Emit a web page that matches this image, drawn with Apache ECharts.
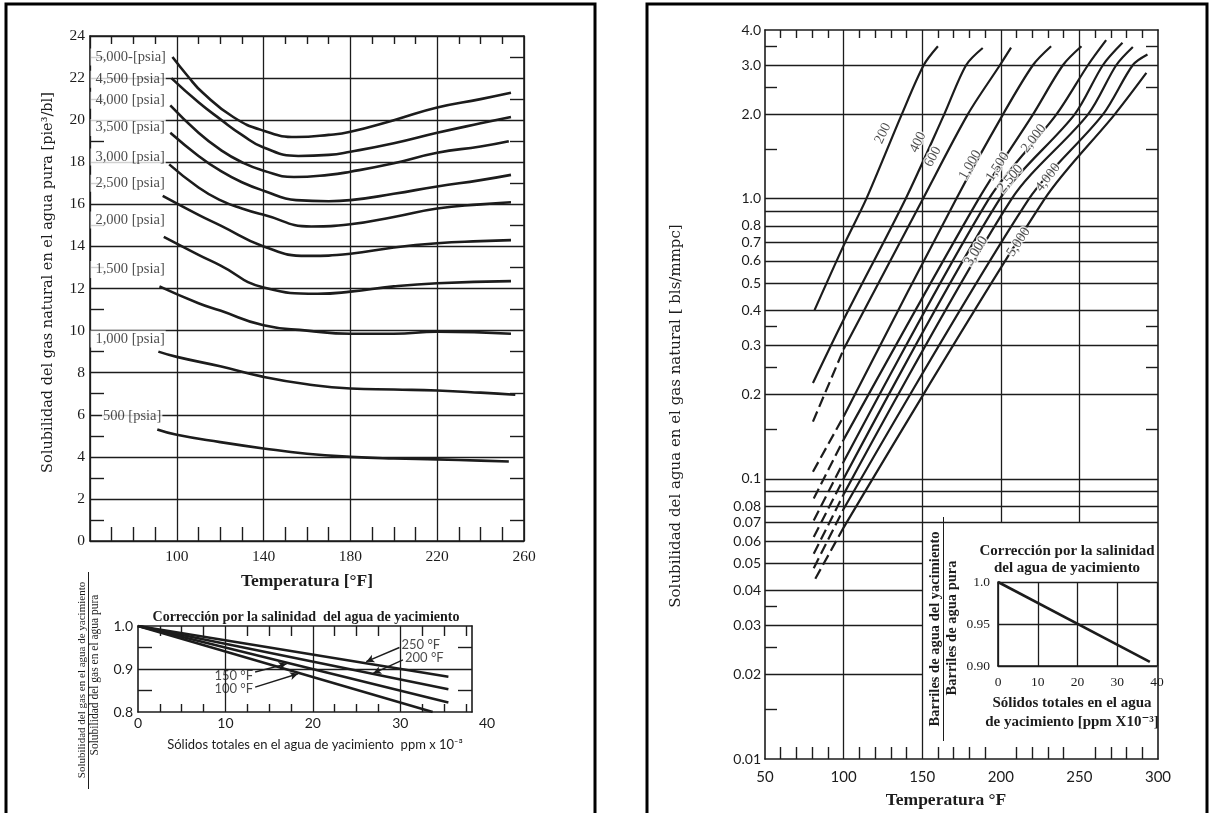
<!DOCTYPE html>
<html><head><meta charset="utf-8">
<script src="https://cdn.jsdelivr.net/npm/echarts@6/dist/echarts.min.js"></script>
<style>html,body{margin:0;padding:0;background:#fff}#c{width:1211px;height:813px}</style>
</head><body><div id="c"></div>
<script>
// ===== LEFT MAIN: gas solubility in pure water [pie³/bl] vs temperature [°F]
const psiaNames = ['5,000-[psia]','4,500 [psia]','4,000 [psia]','3,500 [psia]','3,000 [psia]','2,500 [psia]','2,000 [psia]','1,500 [psia]','1,000 [psia]','500 [psia]'];
const psiaLabelPos = [[60.2,23.0],[60.2,21.95],[60.2,20.95],[60.2,19.65],[60.2,18.25],[60.2,17.0],[60.2,15.25],[60.2,12.9],[60.2,9.6],[65.5,5.95]];
const g5000 = [[98,23.0],[105,22.1],[112,21.3],[126,20.15],[140,19.5],[155,19.2],[170,19.3],[180,19.45],[200,20.0],[220,20.6],[240,21.0],[254,21.3]];
const g4500 = [[97.5,22.0],[110,20.85],[120,20.05],[130,19.3],[140,18.7],[156,18.3],[170,18.35],[180,18.5],[200,18.9],[220,19.4],[240,19.85],[254,20.15]];
const g4000 = [[97,20.7],[110,19.4],[120,18.6],[130,18.0],[140,17.6],[154,17.3],[170,17.4],[180,17.55],[200,17.95],[220,18.45],[240,18.75],[253,19.0]];
const g3500 = [[97,19.4],[110,18.3],[120,17.6],[130,17.05],[140,16.65],[155,16.2],[170,16.15],[180,16.2],[200,16.5],[220,16.85],[240,17.15],[254,17.4]];
const g3000 = [[96.5,17.9],[110,16.8],[120,16.2],[130,15.8],[140,15.5],[162,14.95],[180,15.05],[200,15.4],[220,15.8],[240,16.0],[254,16.1]];
const g2500 = [[93.5,16.4],[110,15.5],[120,15.0],[140,14.0],[160,13.55],[180,13.65],[200,13.95],[220,14.15],[240,14.25],[254,14.3]];
const g2000 = [[94,14.45],[110,13.6],[120,13.1],[140,12.05],[165,11.75],[180,11.85],[200,12.1],[220,12.25],[254,12.35]];
const g1500 = [[92,12.1],[110,11.3],[120,10.95],[140,10.25],[160,10.0],[180,9.85],[200,9.85],[220,9.95],[254,9.85]];
const g1000 = [[91.5,9.0],[100,8.75],[120,8.3],[140,7.8],[160,7.45],[180,7.25],[200,7.2],[220,7.15],[240,7.05],[256,6.95]];
const g500  = [[91,5.3],[100,5.05],[120,4.7],[140,4.4],[160,4.15],[180,4.0],[200,3.92],[220,3.88],[240,3.82],[253,3.78]];
const gasCurves = [g5000,g4500,g4000,g3500,g3000,g2500,g2000,g1500,g1000,g500];
const tempTicks = [70,80,90,110,120,130,150,160,170,190,200,210,230,240,250];
const solOddTicks = [1,3,5,7,9,11,13,15,17,19,21,23];

// ===== LEFT INSET: salinity correction for gas solubility
const sal250 = [[0,1.0],[35.5,0.882]];
const sal200 = [[0,1.0],[35.5,0.853]];
const sal150 = [[0,1.0],[35.5,0.822]];
const sal100 = [[0,1.0],[33.7,0.80]];
const salLabels = [[29.9,0.956,'250 °F','right'],[30.3,0.926,'200 °F','right'],[13.4,0.884,'150 °F','left'],[13.4,0.855,'100 °F','left']];
const salArrows = [[[29.9,0.950],[26.1,0.917]],[[30.3,0.921],[26.9,0.890]],[[13.4,0.893],[17.0,0.912]],[[13.4,0.858],[18.3,0.889]]];
const salMinorX = [2.5,5,7.5,12.5,15,17.5,22.5,25,27.5,32.5,35,37.5];
const salMinorY = [0.85,0.95];
const salGridX = [10,20,30];
const salGridY = [0.9];
const salExtent = {xMax:38.2, yMin:0.8, yMax:1.0};

// ===== RIGHT MAIN: water content of natural gas [bls/mmpc] vs temperature (log scale)
const w200  = [[81.5,0.4],[100,0.68],[114.5,1.0],[137,2.0],[151,3.0],[160,3.5]];
const w400  = [[80.5,0.22],[100,0.37],[139.5,1.0],[164,2.0],[178,3.0],[188.5,3.45]];
const w600d = [[80.5,0.16],[100,0.29]];
const w600  = [[100,0.29],[150.5,1.0],[179,2.0],[199.5,3.0],[206.5,3.46]];
const w1000d= [[80.5,0.106],[100,0.167]];
const w1000 = [[100,0.167],[171.7,1.0],[201.4,2.0],[220.5,3.0],[232,3.5]];
const w1500d= [[81,0.085],[100,0.138]];
const w1500 = [[100,0.138],[186,1.0],[220.5,2.0],[239.6,3.0],[251.3,3.5]];
const w2000d= [[81,0.071],[100,0.115]];
const w2000 = [[100,0.115],[192.5,1.0],[235.4,2.0],[255.5,3.0],[267,3.68]];
const w2500d= [[81,0.062],[100,0.1]];
const w2500 = [[100,0.1],[199.5,1.0],[247,2.0],[265,3.0],[277.4,3.6]];
const w3000d= [[81,0.054],[100,0.088]];
const w3000 = [[100,0.088],[207,1.0],[255.5,2.0],[273.5,3.0],[284,3.48]];
const w4000d= [[81,0.048],[100,0.078]];
const w4000 = [[100,0.078],[218,1.0],[265,2.0],[284,3.0],[293.3,3.27]];
const w5000d= [[82,0.044],[100,0.067]];
const w5000 = [[100,0.067],[228,1.0],[272.5,2.0],[292.6,2.81]];
const waterSolid  = [w200,w400,w600,w1000,w1500,w2000,w2500,w3000,w4000,w5000];
const waterDashed = [w600d,w1000d,w1500d,w2000d,w2500d,w3000d,w4000d,w5000d];
const waterLabels = [[125,1.71,'200',65],[147.3,1.59,'400',64],[156.8,1.41,'600',62],[180.5,1.32,'1,000',60],[198,1.30,'1,500',57],[221,1.64,'2,000',52],[206,1.18,'2,500',50],[184.4,0.65,'3,000',58],[230,1.19,'4,000',52],[211.3,0.70,'5,000',57]];
const waterTickVals = [4,3,2,1,0.8,0.7,0.6,0.5,0.4,0.3,0.2,0.1,0.08,0.07,0.06,0.05,0.04,0.03,0.02,0.01];
const waterTickText = ['4.0','3.0','2.0','1.0','0.8','0.7','0.6','0.5','0.4','0.3','0.2','0.1','0.08','0.07','0.06','0.05','0.04','0.03','0.02','0.01'];
const waterMinorY = [3.5,2.5,1.5,0.35,0.25,0.15,0.035,0.025,0.015];
const waterMinorYRight = [3.5,2.5,1.5,0.35,0.25,0.15];
const waterTempTicks = [60,70,80,90,110,120,130,140,160,170,180,190,210,220,230,240,260,270,280,290];
const hGridFull = [3,2,1,0.9,0.8,0.7,0.6,0.5,0.4,0.3,0.2,0.1,0.09,0.08,0.07];
const hGridPartial = [0.06,0.05,0.04,0.03,0.02];
const vGridFull = [100,150];
const vGridPartial = [200,250];
const insetCorner = [150,0.07];

// ===== RIGHT INSET: salinity correction for water content
const waterSal = [[0,1.0],[38.2,0.905]];

const INK = '#1c1c1c';
const serif = "'Liberation Serif', 'DejaVu Serif', serif";
const wideSerif = "'DejaVu Serif', 'Liberation Serif', serif";
const sans = "Lato, 'Liberation Sans', sans-serif";
const line = {color: INK, width: 1.6};

function frameAxis(o) {
  return Object.assign({type:'value', axisLine:{show:true, onZero:false, lineStyle:line}, axisTick:{show:false}, axisLabel:{show:false}, splitLine:{show:false}}, o);
}
function ticks(vals, len) { return {show:true, inside:true, length:len, customValues: vals, lineStyle:{color:INK, width:1.4}}; }
function gridMark(segs) {
  return {silent:true, symbol:['none','none'], label:{show:false}, lineStyle:{color:INK, width:1.3, type:'solid'}, data: segs, animation:false};
}

const series = [];
gasCurves.forEach(d => series.push({type:'line', xAxisIndex:0, yAxisIndex:0, data:d, smooth:0.5, showSymbol:false, lineStyle:{color:INK, width:2.6}, silent:true}));
series.push({type:'scatter', xAxisIndex:0, yAxisIndex:0, z:20, symbolSize:0.1, itemStyle:{color:'transparent'}, silent:true,
  data: psiaLabelPos.map((p,i)=>({value:p, name:psiaNames[i], label:{padding: i===9 ? [1,1,1,1] : [1,1,1,5]}})),
  label:{show:true, position:'right', distance:0, formatter: p=>p.name, fontFamily:serif, fontSize:14.5, color:INK, backgroundColor:'#fff'}});

// left inset grid lines
const sg = [];
salGridX.forEach(x => sg.push([{coord:[x,salExtent.yMin]},{coord:[x,salExtent.yMax]}]));
salGridY.forEach(y => sg.push([{coord:[0,y]},{coord:[salExtent.xMax,y]}]));
series.push({type:'line', xAxisIndex:2, yAxisIndex:2, data:[], silent:true, markLine:gridMark(sg)});
[sal250,sal200,sal150,sal100].forEach(d => series.push({type:'line', xAxisIndex:2, yAxisIndex:2, data:d, showSymbol:false, lineStyle:{color:INK, width:2.4}, silent:true}));
series.push({type:'scatter', xAxisIndex:2, yAxisIndex:2, symbolSize:0.1, itemStyle:{color:'transparent'}, silent:true,
  data: salLabels.map(l=>({value:[l[0],l[1]], name:l[2], label:{position:l[3]}})),
  label:{show:true, distance:2, formatter:p=>p.name, fontFamily:sans, fontSize:13, color:INK},
  markLine:{silent:true, symbol:['none','arrow'], symbolSize:[6,8], label:{show:false}, lineStyle:{color:INK, width:1.4, type:'solid'},
    data: salArrows.map(a=>[{coord:a[0]},{coord:a[1]}])}});

// grid lines of the log chart (partial where the inset sits)
const gl = [];
hGridFull.forEach(v => gl.push([{coord:[50,v]},{coord:[300,v]}]));
hGridPartial.forEach(v => gl.push([{coord:[50,v]},{coord:[insetCorner[0],v]}]));
vGridFull.forEach(t => gl.push([{coord:[t,0.01]},{coord:[t,4]}]));
vGridPartial.forEach(t => gl.push([{coord:[t,insetCorner[1]]},{coord:[t,4]}]));
series.push({type:'line', xAxisIndex:4, yAxisIndex:4, data:[], silent:true, markLine:gridMark(gl)});
waterSolid.forEach(d => series.push({type:'line', xAxisIndex:4, yAxisIndex:4, data:d, smooth:0.3, showSymbol:false, lineStyle:{color:INK, width:2.2}, silent:true}));
waterDashed.forEach(d => series.push({type:'line', xAxisIndex:4, yAxisIndex:4, data:d, showSymbol:false, lineStyle:{color:INK, width:2.2, type:[11,5]}, silent:true}));
series.push({type:'scatter', xAxisIndex:4, yAxisIndex:4, z:20, symbolSize:0.1, itemStyle:{color:'transparent'}, silent:true,
  data: waterLabels.map(l=>({value:[l[0],l[1]], name:l[2], label:{rotate:l[3]}})),
  label:{show:true, position:'inside', formatter:p=>p.name, fontFamily:serif, fontSize:14, color:INK, textBorderColor:'#fff', textBorderWidth:3}});

series.push({type:'line', xAxisIndex:6, yAxisIndex:6, data:waterSal, showSymbol:false, lineStyle:{color:INK, width:2.6}, silent:true});

const option = {
  animation:false,
  backgroundColor:'#fff',
  textStyle:{fontFamily:serif, color:INK},
  grid:[
    {left:90, top:36, width:434, height:505},
    {left:138, top:626, width:334, height:86},
    {left:765, top:30, width:393, height:729},
    {left:998, top:582, width:159, height:84}
  ],
  xAxis:[
    frameAxis({gridIndex:0, min:60, max:260, interval:40, position:'bottom',
      axisTick:{show:false, inside:true},
      minorTick:{show:true, splitNumber:4, length:14, lineStyle:{color:INK, width:1.4}},
      axisLabel:{show:true, formatter:v=>v===60?'':String(v), fontFamily:serif, fontSize:15.5, color:INK, margin:8},
      splitLine:{show:true, lineStyle:{color:INK, width:1.3}},
      name:'Temperatura [°F]', nameLocation:'middle', nameGap:31, nameTextStyle:{fontFamily:serif, fontSize:17.5, fontWeight:'bold', color:INK}}),
    frameAxis({gridIndex:0, min:60, max:260, interval:40, position:'top', axisTick:ticks(tempTicks,8)}),
    frameAxis({gridIndex:1, min:0, max:salExtent.xMax, interval:10, position:'bottom',
      axisTick:ticks(salMinorX,8),
      axisLabel:{show:true, formatter:v=>v%10===0?String(v):'', fontFamily:sans, fontSize:14, color:INK, margin:4}}),
    frameAxis({gridIndex:1, min:0, max:salExtent.xMax, interval:10, position:'top', axisTick:ticks(salMinorX,10)}),
    frameAxis({gridIndex:2, min:50, max:300, interval:50, position:'bottom',
      axisTick:ticks(waterTempTicks,12),
      axisLabel:{show:true, fontFamily:sans, fontSize:15, color:INK, margin:11}}),
    frameAxis({gridIndex:2, min:50, max:300, interval:50, position:'top', axisTick:ticks(waterTempTicks,8)}),
    frameAxis({gridIndex:3, min:0, max:40, interval:10, position:'bottom',
      axisLabel:{show:true, fontFamily:serif, fontSize:13.5, color:INK, margin:9},
      splitLine:{show:true, lineStyle:{color:INK, width:1.3}}})
  ],
  yAxis:[
    frameAxis({gridIndex:0, min:0, max:24, interval:2, position:'left',
      axisTick:{show:false, inside:true},
      minorTick:{show:true, splitNumber:2, length:14, lineStyle:{color:INK, width:1.4}},
      axisLabel:{show:true, fontFamily:serif, fontSize:15.5, color:INK, margin:5},
      splitLine:{show:true, lineStyle:{color:INK, width:1.3}},
      name:'Solubilidad del gas natural en el agua pura [pie³/bl]', nameLocation:'middle', nameGap:34,
      nameTextStyle:{fontFamily:wideSerif, fontSize:14.5, color:INK, padding:[0,0,0,12]}}),
    frameAxis({gridIndex:0, min:0, max:24, interval:2, position:'right', axisTick:ticks(solOddTicks,14)}),
    frameAxis({gridIndex:1, min:salExtent.yMin, max:salExtent.yMax, interval:0.1, position:'left',
      axisTick:ticks(salMinorY,14),
      axisLabel:{show:true, customValues:[0.8,0.9,1.0], formatter:v=>v.toFixed(1), fontFamily:sans, fontSize:14, color:INK, margin:5}}),
    frameAxis({gridIndex:1, min:salExtent.yMin, max:salExtent.yMax, interval:0.1, position:'right', axisTick:ticks(salMinorY,14)}),
    frameAxis({gridIndex:2, type:'log', logBase:10, min:0.01, max:4, position:'left',
      axisTick:ticks(waterMinorY,12),
      axisLabel:{show:true, customValues:waterTickVals, fontFamily:sans, fontSize:14, color:INK, margin:4,
        formatter:v=>{const i=waterTickVals.findIndex(t=>Math.abs(Math.log10(t)-Math.log10(v))<1e-6); return i>=0?waterTickText[i]:'';}}}),
    frameAxis({gridIndex:2, type:'log', logBase:10, min:0.01, max:4, position:'right', axisTick:ticks(waterMinorYRight,12)}),
    frameAxis({gridIndex:3, min:0.9, max:1.0, interval:0.05, position:'left',
      axisLabel:{show:true, formatter:v=>Math.abs(v-1)<1e-9?'1.0':v.toFixed(2), fontFamily:serif, fontSize:13.5, color:INK, margin:8},
      splitLine:{show:true, lineStyle:{color:INK, width:1.3}}})
  ],
  graphic:[
    {type:'rect', shape:{x:6, y:4, width:589, height:830}, style:{fill:'none', stroke:'#000', lineWidth:3}, silent:true},
    {type:'rect', shape:{x:647, y:4, width:560, height:830}, style:{fill:'none', stroke:'#000', lineWidth:3}, silent:true},
    // left inset texts
    {type:'text', x:306, y:617, style:{text:'Corrección por la salinidad  del agua de yacimiento', font:'bold 14px '+serif, fill:INK, textAlign:'center', textVerticalAlign:'middle'}},
    {type:'text', x:315, y:745, style:{text:'Sólidos totales en el agua de yacimiento  ppm x 10⁻³', font:'13px '+sans, fill:INK, textAlign:'center', textVerticalAlign:'middle'}},
    {type:'text', x:487, y:723, style:{text:'40', font:'14px '+sans, fill:INK, textAlign:'center', textVerticalAlign:'middle'}},
    {type:'text', x:82, y:680, rotation:Math.PI/2, style:{text:'Solubilidad del gas en el agua de yacimiento', font:'11px '+serif, fill:INK, textAlign:'center', textVerticalAlign:'middle'}},
    {type:'line', shape:{x1:88.5, y1:572, x2:88.5, y2:789}, style:{stroke:INK, lineWidth:1}},
    {type:'text', x:95, y:675, rotation:Math.PI/2, style:{text:'Solubilidad del gas en el agua pura', font:'11.5px '+serif, fill:INK, textAlign:'center', textVerticalAlign:'middle'}},
    // right main texts
    {type:'text', x:676, y:416, rotation:Math.PI/2, style:{text:'Solubilidad del agua en el gas natural [ bls/mmpc]', font:'15px '+wideSerif, fill:INK, textAlign:'center', textVerticalAlign:'middle'}},
    {type:'text', x:946, y:800, style:{text:'Temperatura °F', font:'bold 17.5px '+serif, fill:INK, textAlign:'center', textVerticalAlign:'middle'}},
    // right inset texts
    {type:'text', x:1067, y:551, style:{text:'Corrección por la salinidad', font:'bold 15px '+serif, fill:INK, textAlign:'center', textVerticalAlign:'middle'}},
    {type:'text', x:1067, y:568, style:{text:'del agua de yacimiento', font:'bold 15px '+serif, fill:INK, textAlign:'center', textVerticalAlign:'middle'}},
    {type:'text', x:1072, y:703, style:{text:'Sólidos totales en el agua', font:'bold 15px '+serif, fill:INK, textAlign:'center', textVerticalAlign:'middle'}},
    {type:'text', x:1072, y:722, style:{text:'de yacimiento [ppm X10⁻³]', font:'bold 15px '+serif, fill:INK, textAlign:'center', textVerticalAlign:'middle'}},
    {type:'text', x:935, y:629, rotation:Math.PI/2, style:{text:'Barriles de agua del yacimiento', font:'bold 14.5px '+serif, fill:INK, textAlign:'center', textVerticalAlign:'middle'}},
    {type:'line', shape:{x1:943.5, y1:517, x2:943.5, y2:741}, style:{stroke:INK, lineWidth:1}},
    {type:'text', x:952, y:628, rotation:Math.PI/2, style:{text:'Barriles de agua pura', font:'bold 14.5px '+serif, fill:INK, textAlign:'center', textVerticalAlign:'middle'}}
  ],
  series
};
const chart = echarts.init(document.getElementById('c'));
chart.setOption(option);
</script>
</body></html>
